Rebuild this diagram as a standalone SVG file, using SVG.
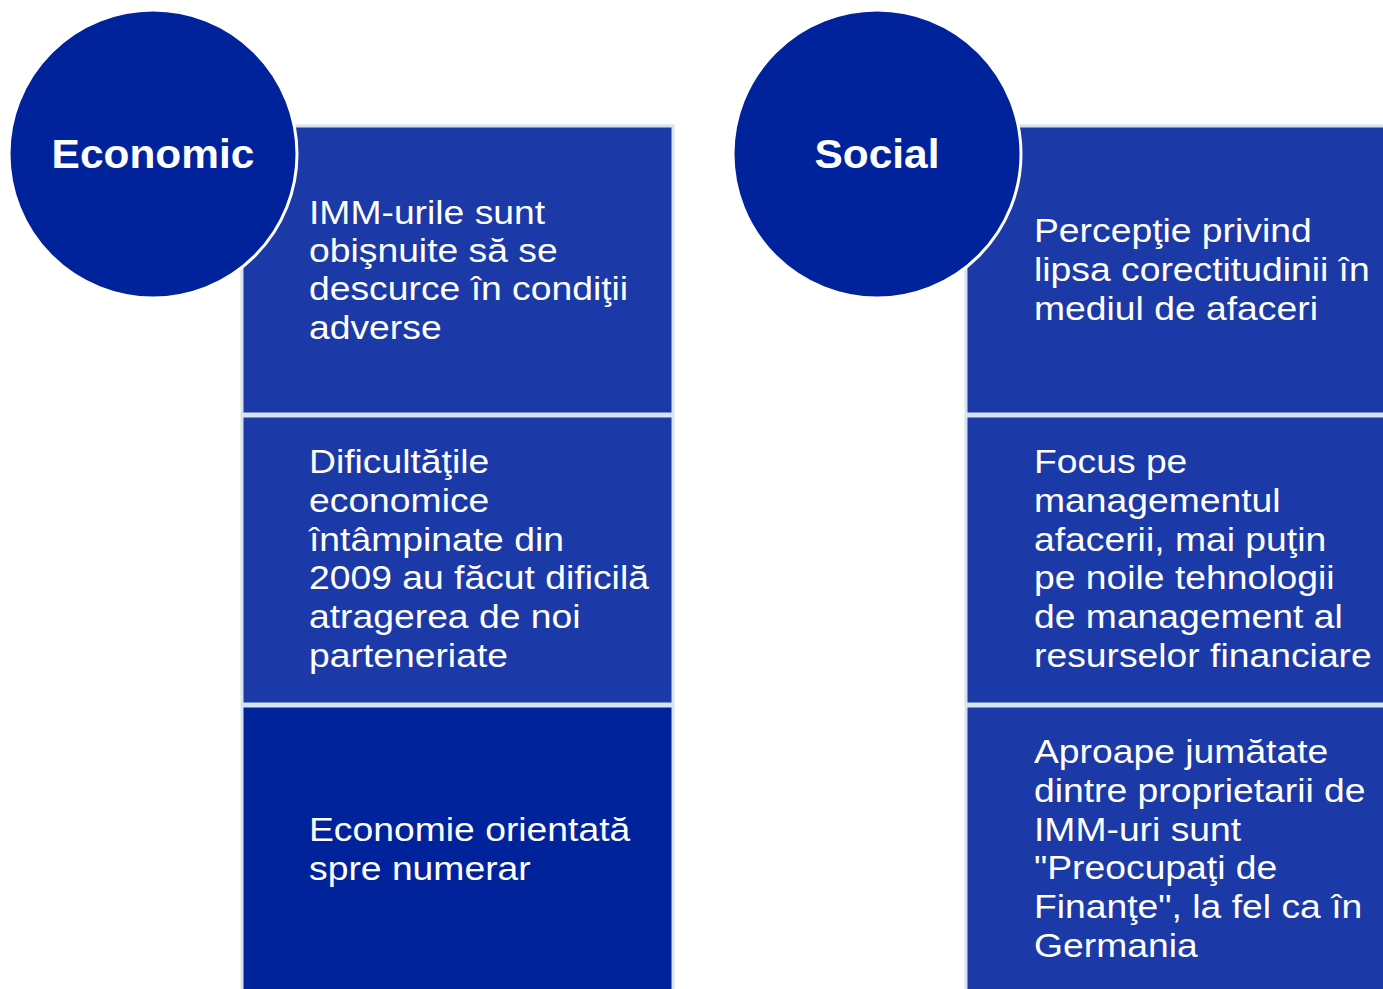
<svg xmlns="http://www.w3.org/2000/svg" width="1383" height="989" viewBox="0 0 1383 989">
<style>
.box{fill:#1c39a8;stroke:#d6e4ee;stroke-width:3}
.dark{fill:#00239c}
.circ{fill:#00239c;stroke:#ffffff;stroke-width:3}
.t{font-family:"Liberation Sans",Arial,sans-serif;font-size:34px;fill:#ffffff}
.h{font-family:"Liberation Sans",Arial,sans-serif;font-size:41px;font-weight:bold;fill:#ffffff;text-anchor:middle}
</style>
<rect width="1383" height="989" fill="#ffffff"/>
<g id="connectors"></g>
<g id="eco-box1"><rect class="box" x="242" y="126" width="431" height="288"/>
<text class="t" transform="translate(309 0) scale(1.097 1)"><tspan x="0" y="224">IMM-urile sunt</tspan><tspan x="0" y="262">obişnuite să se</tspan><tspan x="0" y="300">descurce în condiţii</tspan><tspan x="0" y="339">adverse</tspan></text></g>
<g id="eco-box2"><rect class="box" x="242" y="416" width="431" height="288"/>
<text class="t" transform="translate(309 0) scale(1.097 1)"><tspan x="0" y="473">Dificultăţile</tspan><tspan x="0" y="512">economice</tspan><tspan x="0" y="551">întâmpinate din</tspan><tspan x="0" y="589">2009 au făcut dificilă</tspan><tspan x="0" y="628">atragerea de noi</tspan><tspan x="0" y="667">parteneriate</tspan></text></g>
<g id="eco-box3"><rect class="box dark" x="242" y="706" width="431" height="300"/>
<text class="t" transform="translate(309 0) scale(1.097 1)"><tspan x="0" y="841">Economie orientată</tspan><tspan x="0" y="880">spre numerar</tspan></text></g>
<g id="soc-box1"><rect class="box" x="966" y="126" width="431" height="288"/>
<text class="t" transform="translate(1034 0) scale(1.097 1)"><tspan x="0" y="242">Percepţie privind</tspan><tspan x="0" y="281">lipsa corectitudinii în</tspan><tspan x="0" y="320">mediul de afaceri</tspan></text></g>
<g id="soc-box2"><rect class="box" x="966" y="416" width="431" height="288"/>
<text class="t" transform="translate(1034 0) scale(1.097 1)"><tspan x="0" y="473">Focus pe</tspan><tspan x="0" y="512">managementul</tspan><tspan x="0" y="551">afacerii, mai puţin</tspan><tspan x="0" y="589">pe noile tehnologii</tspan><tspan x="0" y="628">de management al</tspan><tspan x="0" y="667">resurselor financiare</tspan></text></g>
<g id="soc-box3"><rect class="box" x="966" y="706" width="431" height="300"/>
<text class="t" transform="translate(1034 0) scale(1.097 1)"><tspan x="0" y="763">Aproape jumătate</tspan><tspan x="0" y="802">dintre proprietarii de</tspan><tspan x="0" y="841">IMM-uri sunt</tspan><tspan x="0" y="879">"Preocupaţi de</tspan><tspan x="0" y="918">Finanţe", la fel ca în</tspan><tspan x="0" y="957">Germania</tspan></text></g>
<g id="economic"><circle class="circ" cx="153" cy="154" r="144"/><text class="h" transform="translate(153 0) scale(1.035 1)" x="0" y="168">Economic</text></g>
<g id="social"><circle class="circ" cx="877" cy="154" r="144"/><text class="h" transform="translate(877 0) scale(1.035 1)" x="0" y="168">Social</text></g>
</svg>
